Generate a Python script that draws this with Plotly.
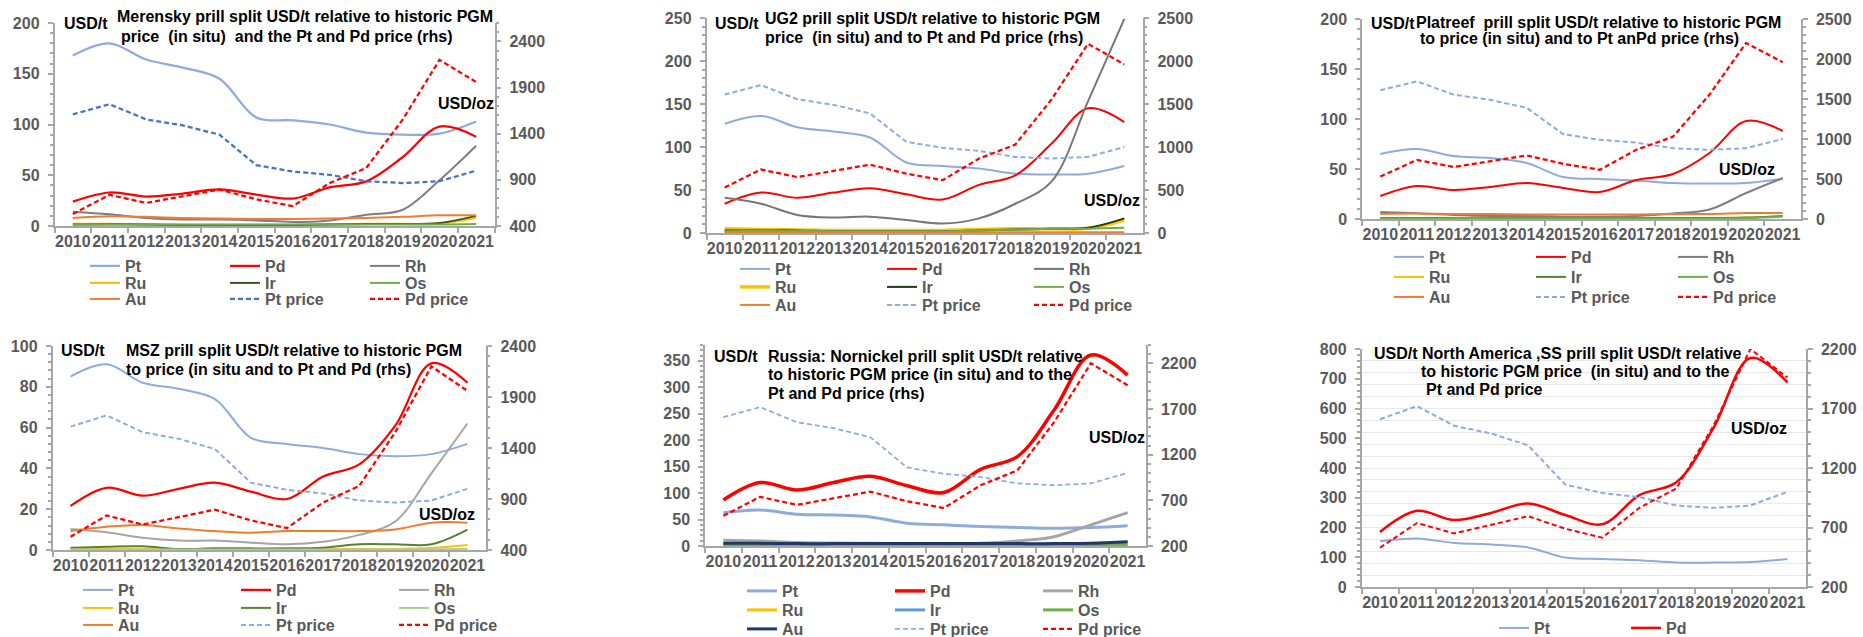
import plotly.graph_objects as go

W, H = 1863, 637
FONT = "Liberation Sans, Arial, Helvetica, sans-serif"
TXT_GRAY = "#595959"
AXIS_COL = "#A6A6A6"

# ---------------- data ----------------
years = ["2010", "2011", "2012", "2013", "2014", "2015", "2016", "2017", "2018", "2019", "2020", "2021"]

pt_price = [1610, 1720, 1555, 1490, 1390, 1060, 990, 955, 885, 865, 885, 1000]
pd_price = [530, 738, 650, 722, 795, 690, 615, 865, 1028, 1555, 2200, 1960]

# Merensky
mer_pt = [168, 180, 164, 156, 145, 107, 104, 100, 92, 90, 91, 103]
mer_pd = [24, 33, 29, 32, 36, 31, 27, 38, 44, 68, 98, 88]
mer_rh = [14, 11.5, 8, 6.5, 6.3, 5.5, 4, 5.5, 11, 16, 45, 79]
mer_ru = [2, 2, 1.5, 1.2, 1.2, 1.2, 1.2, 1.5, 2, 2, 2.5, 8]
mer_ir = [1.5, 1.8, 1.5, 1, 1, 1, 1, 1.5, 2, 2, 3, 10]
mer_os = [1.5, 1.5, 1.5, 1.5, 1.5, 1.5, 1.5, 1.5, 1.5, 1.5, 1.5, 2]
mer_au = [8, 9.5, 9, 8, 7.5, 7, 7, 7.5, 8, 9, 10.5, 10.5]

# UG2
ug2_pt = [127, 136, 123, 118, 111, 82, 78, 75, 69, 68, 69, 78]
ug2_pd = [34, 47, 41, 47, 52, 45, 39, 56, 67, 104, 145, 129]
ug2_rh = [41, 34, 21, 18, 19, 15, 11, 17, 34, 60, 153, 249]
ug2_ru = [5, 4, 3.5, 3, 3, 3, 3, 4, 5, 5, 5.5, 15]
ug2_ir = [3, 3, 3, 2, 2, 2, 2, 3, 4, 5, 6, 17]
ug2_os = [2, 2.5, 2.5, 2, 2, 2, 2, 3, 4, 5, 5, 6]
ug2_au = [1, 1, 1, 1, 1, 1, 1, 1, 1, 1, 1, 1]

# Platreef
plt_pt = [65, 70, 63, 61, 56, 42, 40, 38.5, 36, 35.5, 36, 40]
plt_pd = [23, 33, 29, 32, 36, 31, 27, 39, 45, 66, 98, 88]
plt_rh = [7, 5.7, 4, 3, 3, 2.3, 2.3, 3, 5.5, 9.5, 26, 41]
plt_ru = [1, 1, 1, 1, 1, 1, 1, 1, 1, 1, 1.5, 3]
plt_ir = [1, 1, 0.8, 0.8, 0.8, 0.8, 0.8, 0.8, 1, 1, 1.5, 3]
plt_os = [0.5, 0.5, 0.5, 0.5, 0.5, 0.5, 0.5, 0.5, 0.5, 0.5, 1, 2.5]
plt_au = [5, 5.5, 5, 5, 4.5, 4.5, 4.5, 4.5, 5, 5, 6, 6]

# MSZ
msz_pt = [85, 91, 82, 79, 74, 55, 52, 50, 47, 46, 47, 52]
msz_pd = [21.6, 30.5, 26.6, 30, 33, 28.6, 25, 36, 42, 61, 91.5, 82]
msz_rh = [10.3, 8.7, 6, 4.6, 4.6, 3.6, 2.8, 4, 7.4, 14, 37.6, 62]
msz_ru = [0.5, 0.5, 0.5, 0.5, 0.5, 0.5, 0.5, 0.5, 0.5, 0.5, 1, 2.5]
msz_ir = [1.1, 1.6, 1.8, 0.5, 0.8, 0.8, 0.8, 1.1, 2.8, 2.8, 2.8, 10]
msz_os = [0.3, 0.3, 0.3, 0.3, 0.3, 0.3, 0.3, 0.3, 0.3, 0.3, 0.3, 0.5]
msz_au = [9.3, 11.4, 12.3, 10.6, 9.3, 8.5, 9.3, 9.3, 9.3, 10.1, 13.4, 13.4]

# Russia: Nornickel
nn_pt = [63, 68, 60, 58.5, 55, 43, 40, 37, 35, 33.5, 35, 38.5]
nn_pd = [87, 120, 106, 120, 132, 114, 101, 145, 169, 257, 361, 323]
nn_rh = [11, 9.5, 6.5, 5.5, 5, 4.5, 4, 5, 9.5, 17.5, 40, 63]
nn_ru = [1, 1, 1, 1, 1, 1, 1, 1, 1, 1, 1, 2]
nn_ir = [4, 4, 3.5, 3.5, 3.5, 3.5, 3.5, 3.5, 3.5, 3.5, 4, 7]
nn_os = [1, 1, 1, 1, 1, 1, 1, 1, 1, 1, 1, 1]
nn_au = [5, 5, 4.5, 4.5, 4.5, 4.5, 4.5, 4.5, 4.5, 4.5, 5, 8]

# North America
na_pt = [154, 163, 148, 143, 133, 99, 94, 90, 82, 82, 84, 94]
na_pd = [185, 256, 225, 249, 281, 242, 211, 309, 352, 534, 770, 688]

# ---------------- panel specs ----------------
STD_ROWS = [["Pt", "Pd", "Rh"], ["Ru", "Ir", "Os"], ["Au", "Pt price", "Pd price"]]

panels = [
    dict(
        series=[("Pt", mer_pt, "#8FAADC", 2.25), ("Pd", mer_pd, "#FF0000", 2.25), ("Rh", mer_rh, "#7F7F7F", 2),
                ("Ru", mer_ru, "#FFC000", 2.25), ("Ir", mer_ir, "#375623", 2), ("Os", mer_os, "#70AD47", 2),
                ("Au", mer_au, "#ED7D31", 2)],
        prices=[("Pt price", pt_price, "#4472C4", 2.25), ("Pd price", pd_price, "#FF0000", 2.25)],
        xdom=(54.5, 494.5), ydom=(23, 226),
        yl=(0, 200, 50, 0), yr=(400, 2600, 500, 400), grid=False,
        rows=STD_ROWS, row_y=[266, 283, 299], col_x=[90, 230, 370], ew=95,
        texts=[("USD/t", 63, 23), ("Merensky prill split USD/t relative to historic PGM", 116, 17),
               ("price \u00a0(in situ) \u00a0and the Pt and Pd price (rhs)", 120, 36), ("USD/oz", 437, 103)],
    ),
    dict(
        series=[("Pt", ug2_pt, "#8FAADC", 2), ("Pd", ug2_pd, "#FF0000", 2), ("Rh", ug2_rh, "#767676", 2),
                ("Ru", ug2_ru, "#FFC000", 3.5), ("Ir", ug2_ir, "#1E3D14", 2), ("Os", ug2_os, "#70AD47", 2),
                ("Au", ug2_au, "#ED7D31", 2)],
        prices=[("Pt price", pt_price, "#8FAADC", 2), ("Pd price", pd_price, "#FF0000", 2.25)],
        xdom=(706.5, 1142.5), ydom=(18, 233),
        yl=(0, 250, 50, 0), yr=(0, 2500, 500, 0), grid=False,
        rows=STD_ROWS, row_y=[269, 287, 305], col_x=[740, 887, 1033], ew=102,
        texts=[("USD/t", 714, 23), ("UG2 prill split USD/t relative to historic PGM", 764, 19),
               ("price \u00a0(in situ) and to Pt and Pd price (rhs)", 764, 37), ("USD/oz", 1083, 200)],
    ),
    dict(
        series=[("Pt", plt_pt, "#8FAADC", 2), ("Pd", plt_pd, "#FF0000", 2), ("Rh", plt_rh, "#7F7F7F", 2),
                ("Ru", plt_ru, "#FFC000", 2), ("Ir", plt_ir, "#548235", 2), ("Os", plt_os, "#70AD47", 2),
                ("Au", plt_au, "#ED7D31", 2)],
        prices=[("Pt price", pt_price, "#8FAADC", 2), ("Pd price", pd_price, "#FF0000", 2.25)],
        xdom=(1362, 1801), ydom=(19, 219),
        yl=(0, 200, 50, 0), yr=(0, 2500, 500, 0), grid=False,
        rows=STD_ROWS, row_y=[257, 277, 297], col_x=[1394, 1535, 1678], ew=97,
        texts=[("USD/t", 1370, 23), ("Platreef \u00a0prill split USD/t relative to historic PGM", 1415, 22),
               ("to price (in situ) and to Pt anPd price (rhs)", 1419, 39), ("USD/oz", 1718, 170)],
    ),
    dict(
        series=[("Pt", msz_pt, "#8FAADC", 2), ("Pd", msz_pd, "#FF0000", 2.25), ("Rh", msz_rh, "#A5A5A5", 2),
                ("Ru", msz_ru, "#FFC000", 2), ("Ir", msz_ir, "#548235", 2), ("Os", msz_os, "#A9D18E", 2),
                ("Au", msz_au, "#ED7D31", 2)],
        prices=[("Pt price", pt_price, "#8FAADC", 2), ("Pd price", pd_price, "#FF0000", 2.25)],
        xdom=(52.5, 485.5), ydom=(346, 550),
        yl=(0, 100, 20, 0), yr=(400, 2400, 500, 400), grid=False,
        rows=STD_ROWS, row_y=[590, 608, 625], col_x=[83, 242, 400], ew=113,
        texts=[("USD/t", 60, 351), ("MSZ prill split USD/t relative to historic PGM", 125, 351),
               ("to price (in situ and to Pt and Pd (rhs)", 125, 369), ("USD/oz", 418, 514)],
    ),
    dict(
        series=[("Pt", nn_pt, "#8FAADC", 3), ("Pd", nn_pd, "#FF0000", 3.5), ("Rh", nn_rh, "#A5A5A5", 3),
                ("Ru", nn_ru, "#FFC000", 3), ("Ir", nn_ir, "#5B9BD5", 3), ("Os", nn_os, "#70AD47", 3),
                ("Au", nn_au, "#203864", 3)],
        prices=[("Pt price", pt_price, "#8FAADC", 1.75), ("Pd price", pd_price, "#FF0000", 2.25)],
        xdom=(705, 1146), ydom=(345, 546),
        yl=(0, 380, 50, 0), yr=(200, 2400, 500, 200), grid=False,
        rows=STD_ROWS, row_y=[591, 610, 629], col_x=[747, 895, 1043], ew=103,
        texts=[("USD/t", 713, 356), ("Russia: Nornickel prill split USD/t relative", 767, 356),
               ("to historic PGM price (in situ) and to the", 767, 374), ("Pt and Pd price (rhs)", 767, 393),
               ("USD/oz", 1088, 437)],
    ),
    dict(
        series=[("Pt", na_pt, "#8FAADC", 2), ("Pd", na_pd, "#FF0000", 2.5)],
        prices=[("Pt price", pt_price, "#8FAADC", 2), ("Pd price", pd_price, "#FF0000", 2)],
        xdom=(1361.5, 1806), ydom=(349, 587),
        yl=(0, 800, 100, 0), yr=(200, 2200, 500, 200), grid=True,
        rows=[["Pt", "Pd"]], row_y=[628], col_x=[1499, 1632], ew=87,
        texts=[("USD/t North America ,SS prill split USD/t relative", 1373, 353),
               ("to historic PGM price \u00a0(in situ) and to the", 1420, 371),
               ("Pt and Pd price", 1425, 389), ("USD/oz", 1730, 428)],
    ),
]


def fx(px):
    return px / W


def fy(py):
    return 1 - py / H


fig = go.Figure()
layout = dict(
    width=W, height=H, margin=dict(l=0, r=0, t=0, b=0, autoexpand=False),
    paper_bgcolor="white", plot_bgcolor="white",
    font=dict(family=FONT, size=16, color=TXT_GRAY),
    annotations=[],
)

tickfont = dict(family=FONT, size=16, color=TXT_GRAY, weight="bold")
leg_idx = 0

for k, p in enumerate(panels, start=1):
    xa = "x" if k == 1 else f"x{k}"
    nl, nr = 2 * k - 1, 2 * k
    yl = "y" if nl == 1 else f"y{nl}"
    yr = f"y{nr}"
    xkey = "xaxis" if k == 1 else f"xaxis{k}"
    ylkey = "yaxis" if nl == 1 else f"yaxis{nl}"
    yrkey = f"yaxis{nr}"

    layout[xkey] = dict(
        domain=[fx(p["xdom"][0]), fx(p["xdom"][1])], anchor=yl, type="category",
        range=[-0.5, len(years) - 0.5], showline=True, linecolor=AXIS_COL, linewidth=1.5,
        ticks="outside", tickson="boundaries", ticklen=5, tickcolor=AXIS_COL, tickwidth=1.5,
        tickangle=0, tickfont=tickfont, showgrid=False, zeroline=False, fixedrange=True,
        automargin=False,
    )
    lo, hi, dt, t0 = p["yl"]
    layout[ylkey] = dict(
        domain=[fy(p["ydom"][1]), fy(p["ydom"][0])], anchor=xa, range=[lo, hi], dtick=dt, tick0=t0,
        showline=True, linecolor=AXIS_COL, linewidth=1.5, ticks="outside", ticklen=5,
        tickcolor=AXIS_COL, tickwidth=1.5, tickfont=tickfont, ticklabelstandoff=5,
        minor=dict(ticks="outside", ticklen=3, tickcolor=AXIS_COL, dtick=dt / 5),
        showgrid=False, zeroline=False, fixedrange=True, automargin=False,
    )
    lo, hi, dt, t0 = p["yr"]
    right = dict(
        overlaying=yl, side="right", anchor=xa, range=[lo, hi], dtick=dt, tick0=t0,
        showline=True, linecolor=AXIS_COL, linewidth=1.5, ticks="outside", ticklen=5,
        tickcolor=AXIS_COL, tickwidth=1.5, tickfont=tickfont, ticklabelstandoff=5,
        minor=dict(ticks="outside", ticklen=3, tickcolor=AXIS_COL, dtick=dt / 5),
        showgrid=False, zeroline=False, fixedrange=True, automargin=False,
    )
    if p["grid"]:
        right["showgrid"] = True
        right["gridcolor"] = "#E7E7E7"
        right["gridwidth"] = 1
        right["minor"]["showgrid"] = True
        right["minor"]["gridcolor"] = "#E7E7E7"
        right["minor"]["gridwidth"] = 1
    layout[yrkey] = right

    # legends: one horizontal legend per row
    legend_of = {}
    for row, ry in zip(p["rows"], p["row_y"]):
        leg_idx += 1
        lname = "legend" if leg_idx == 1 else f"legend{leg_idx}"
        layout[lname] = dict(
            orientation="h", x=fx(p["col_x"][0] - 5), y=fy(ry), xanchor="left", yanchor="middle",
            entrywidth=p["ew"], entrywidthmode="pixels", bgcolor="rgba(0,0,0,0)", borderwidth=0,
            font=dict(family=FONT, size=16, color=TXT_GRAY, weight="bold"),
            traceorder="normal", tracegroupgap=0, itemclick=False, itemdoubleclick=False,
        )
        for nm in row:
            legend_of[nm] = lname

    for nm, vals, col, wd in p["series"]:
        fig.add_trace(go.Scatter(
            x=years, y=vals, name=nm, mode="lines", xaxis=xa, yaxis=yl,
            line=dict(color=col, width=wd, shape="spline", smoothing=1.0),
            legend=legend_of.get(nm, "legend"), showlegend=nm in legend_of, hoverinfo="skip",
        ))
    for nm, vals, col, wd in p["prices"]:
        fig.add_trace(go.Scatter(
            x=years, y=vals, name=nm, mode="lines", xaxis=xa, yaxis=yr,
            line=dict(color=col, width=wd, dash="5px,3px"),
            legend=legend_of.get(nm, "legend"), showlegend=nm in legend_of, hoverinfo="skip",
        ))

    for txt, tx, ty in p["texts"]:
        layout["annotations"].append(dict(
            text="<b>" + txt + "</b>", x=fx(tx), y=fy(ty), xref="paper", yref="paper",
            xanchor="left", yanchor="middle", showarrow=False, borderpad=0,
            font=dict(family=FONT, size=16, color="#000000", weight="bold"),
        ))

fig.update_layout(layout)
fig.write_html("out.html", config={"displayModeBar": False},
               post_script="document.body.style.margin='0px';")
